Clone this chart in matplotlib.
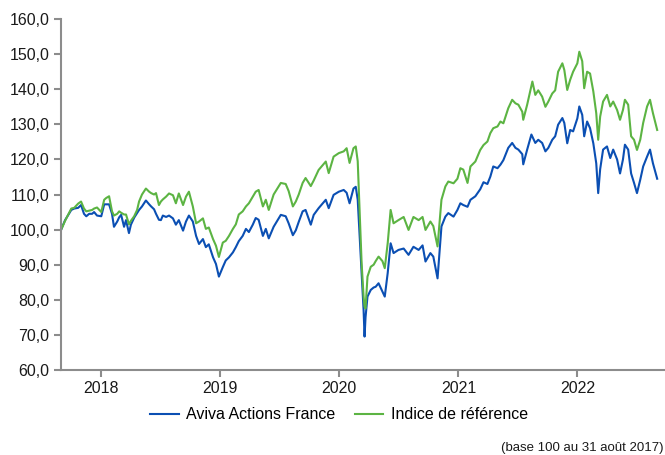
# Performance cumulée : Aviva Actions France vs indice de référence
import matplotlib.pyplot as plt
import matplotlib.dates as mdates
from matplotlib.ticker import FuncFormatter
import pandas as pd

plt.rcParams['font.family'] = ['Liberation Sans', 'DejaVu Sans']

# jours écoulés depuis le 31 août 2017 (base 100)
jours = [0, 12, 31, 40, 52, 61, 70, 77, 86, 95, 101, 110, 123, 132, 138, 147,
         156, 162, 172, 178, 184, 193, 199, 208, 214, 224, 233, 239, 248, 260,
         270, 276, 285, 291, 300, 306, 312, 322, 331, 343, 352, 361, 374, 383,
         392, 404, 414, 423, 435, 444, 453, 466, 475, 484, 496, 505, 515, 527,
         536, 545, 557, 567, 576, 588, 597, 606, 619, 628, 637, 652, 674, 689,
         698, 711, 720, 729, 741, 750, 766, 775, 790, 812, 821, 836, 852, 867,
         876, 885, 897, 904, 910, 916, 922, 928, 931, 934, 940, 950, 959, 965,
         974, 986, 993, 1002, 1011, 1020, 1035, 1051, 1066, 1081, 1097, 1109,
         1118, 1133, 1142, 1155, 1167, 1179, 1188, 1204, 1216, 1225, 1234, 1247,
         1256, 1271, 1286, 1296, 1308, 1317, 1326, 1339, 1348, 1357, 1372, 1384,
         1394, 1403, 1415, 1418, 1430, 1443, 1446, 1455, 1464, 1476, 1486, 1495,
         1507, 1516, 1525, 1538, 1544, 1553, 1562, 1571, 1584, 1590, 1599, 1605,
         1614, 1623, 1633, 1642, 1648, 1654, 1663, 1675, 1685, 1694, 1706, 1715,
         1724, 1730, 1740, 1749, 1758, 1767, 1777, 1786, 1798, 1807, 1816, 1829]

aviva = [100, 102.7, 105.6, 106, 106.2, 107, 104.5, 103.8, 104.5, 104.5, 105, 104,
         103.8, 107.2, 107.2, 107.2, 104.5, 100.8, 102.3, 103.5, 104.2, 100.8,
         102.7, 99, 101.4, 103.4, 104.7, 105.6, 106.6, 108.3, 107.2, 106.6, 105.8,
         104.5, 102.8, 102.7, 104, 103.6, 104, 103.2, 101.4, 102.7, 99.7, 102.3,
         104, 102.3, 98.2, 95.9, 97.3, 95, 95.8, 92.1, 90.2, 86.6, 89.3, 91.2,
         92.1, 93.5, 95, 96.7, 98.2, 100.2, 99.3, 101.4, 103.3, 102.8, 98.2,
         100.2, 97.5, 100.8, 104.2, 103.8, 101.8, 98.4, 99.8, 102.2, 105.2, 105.6,
         101.4, 104.2, 106.1, 108.5, 106.1, 109.9, 110.8, 111.3, 110.5, 107.5,
         111.7, 112.2, 108.5, 98, 87.6, 77.1, 69.5, 75, 80.9, 82.8, 83.5, 83.7,
         84.7, 82.3, 80.9, 87.6, 96.1, 93.3, 94.2, 94.6, 92.8, 95.1, 94.2, 95.5,
         90.9, 93.3, 92.3, 86.1, 100.9, 103.7, 104.7, 103.7, 105.6, 107.5, 107,
         106.5, 108.5, 109.5, 111.5, 113.5, 113, 115.1, 118, 117.5, 118.5, 119.8,
         123.3, 124.7, 123.3, 122.8, 121.5, 118.6, 122.8, 127.1, 126.5, 124.7,
         125.6, 124.7, 122.3, 123.3, 125.6, 126.6, 129.9, 131.8, 130.4, 124.6,
         128.4, 128, 131.7, 135.1, 132.7, 126.6, 130.8, 128.9, 124.6, 118.9,
         110.4, 117.2, 122.8, 123.7, 120.4, 122.8, 120, 116, 120, 124.2, 122.8,
         116, 113.3, 110.4, 114.2, 118, 120.8, 122.8, 118.9, 114.5]

indice = [100, 102.5, 106, 106.2, 107.4, 108, 106, 105.2, 105.4, 105.6, 106, 106.3,
          105, 108.5, 109, 109.5, 105.2, 104, 104.5, 105.2, 104.8, 104.3, 104.3,
          101.5, 102.5, 103.8, 105.6, 108, 110, 111.7, 110.8, 110.4, 110, 110.4,
          107, 108, 108.6, 109.4, 110.3, 109.8, 107.5, 110.3, 107, 109.4, 110.8,
          106.6, 101.8, 102.3, 103.2, 100.2, 100.6, 97.3, 95.4, 92.2, 96.3, 96.8,
          98.2, 100.2, 101.5, 104.3, 105.2, 106.6, 107.5, 109.4, 110.8, 111.3,
          106.6, 108.5, 105.6, 110, 113.3, 113, 111, 106.6, 108, 110, 113.3,
          114.7, 112.4, 114, 117, 119.4, 116.1, 120.8, 121.8, 122.3, 123.2, 119,
          123.2, 123.7, 119.5, 104.6, 90.4, 80.9, 78, 77.5, 86.6, 89.4, 90, 91,
          92.3, 91, 89, 96.1, 105.6, 101.8, 102.7, 103.6, 99.9, 103.6, 102.7,
          103.6, 99.9, 102.3, 101, 95.2, 108.5, 112.3, 113.7, 113.2, 114.5, 117.5,
          117.1, 113.3, 118, 119.4, 122.7, 124.1, 125.1, 127.5, 128.9, 129.4,
          130.8, 130.3, 134.6, 137, 136, 135.6, 133.6, 131.3, 135.6, 141, 142.2,
          138.4, 139.7, 137.9, 135, 136.5, 138.8, 139.7, 145, 147.4, 145.5,
          139.8, 142.7, 145, 147.4, 150.7, 148, 140.3, 145, 144.5, 139.4, 133.2,
          125.6, 132.2, 136.5, 138.4, 135.1, 136.5, 134.1, 131.3, 134.1, 137,
          135.6, 126.6, 125.6, 122.7, 125.6, 130.4, 135.1, 137, 133.2, 128.4]

depart = pd.Timestamp('2017-08-31')
dates = depart + pd.to_timedelta(jours, unit='D')

bleu = '#0B4FB3'
vert = '#5CB443'
gris = '#8C8C8C'

fig = plt.figure(figsize=(6.65, 4.55), dpi=100)
ax = fig.add_axes([0.092, 0.187, 0.908, 0.771])

ax.plot(dates, aviva, color=bleu, lw=1.5, label='Aviva Actions France')
ax.plot(dates, indice, color=vert, lw=1.5, label='Indice de référence')

ax.set_ylim(60, 160)
ax.set_yticks(range(60, 161, 10))
ax.yaxis.set_major_formatter(FuncFormatter(lambda v, p: f'{v:.1f}'.replace('.', ',')))
ax.set_xlim(depart, pd.Timestamp('2022-09-27'))
ax.xaxis.set_major_locator(mdates.YearLocator())
ax.xaxis.set_major_formatter(mdates.DateFormatter('%Y'))

# axes gris, sans cadre
for cote in ['top', 'right']:
    ax.spines[cote].set_visible(False)
for cote in ['left', 'bottom']:
    ax.spines[cote].set_color(gris)
    ax.spines[cote].set_linewidth(1.5)
ax.tick_params(axis='both', colors=gris, length=5, width=1.5, labelsize=11.5,
               labelcolor='#1a1a1a')
ax.tick_params(axis='x', pad=3)

ax.legend(loc='upper center', bbox_to_anchor=(0.46, -0.065), ncol=2, frameon=False,
          fontsize=11.5, handlelength=1.8, handletextpad=0.45, columnspacing=1.2)

fig.text(0.997, 0.002, '(base 100 au 31 août 2017)', ha='right', va='bottom',
         fontsize=9.5, color='#1a1a1a')

plt.savefig('out.png', dpi=100)
